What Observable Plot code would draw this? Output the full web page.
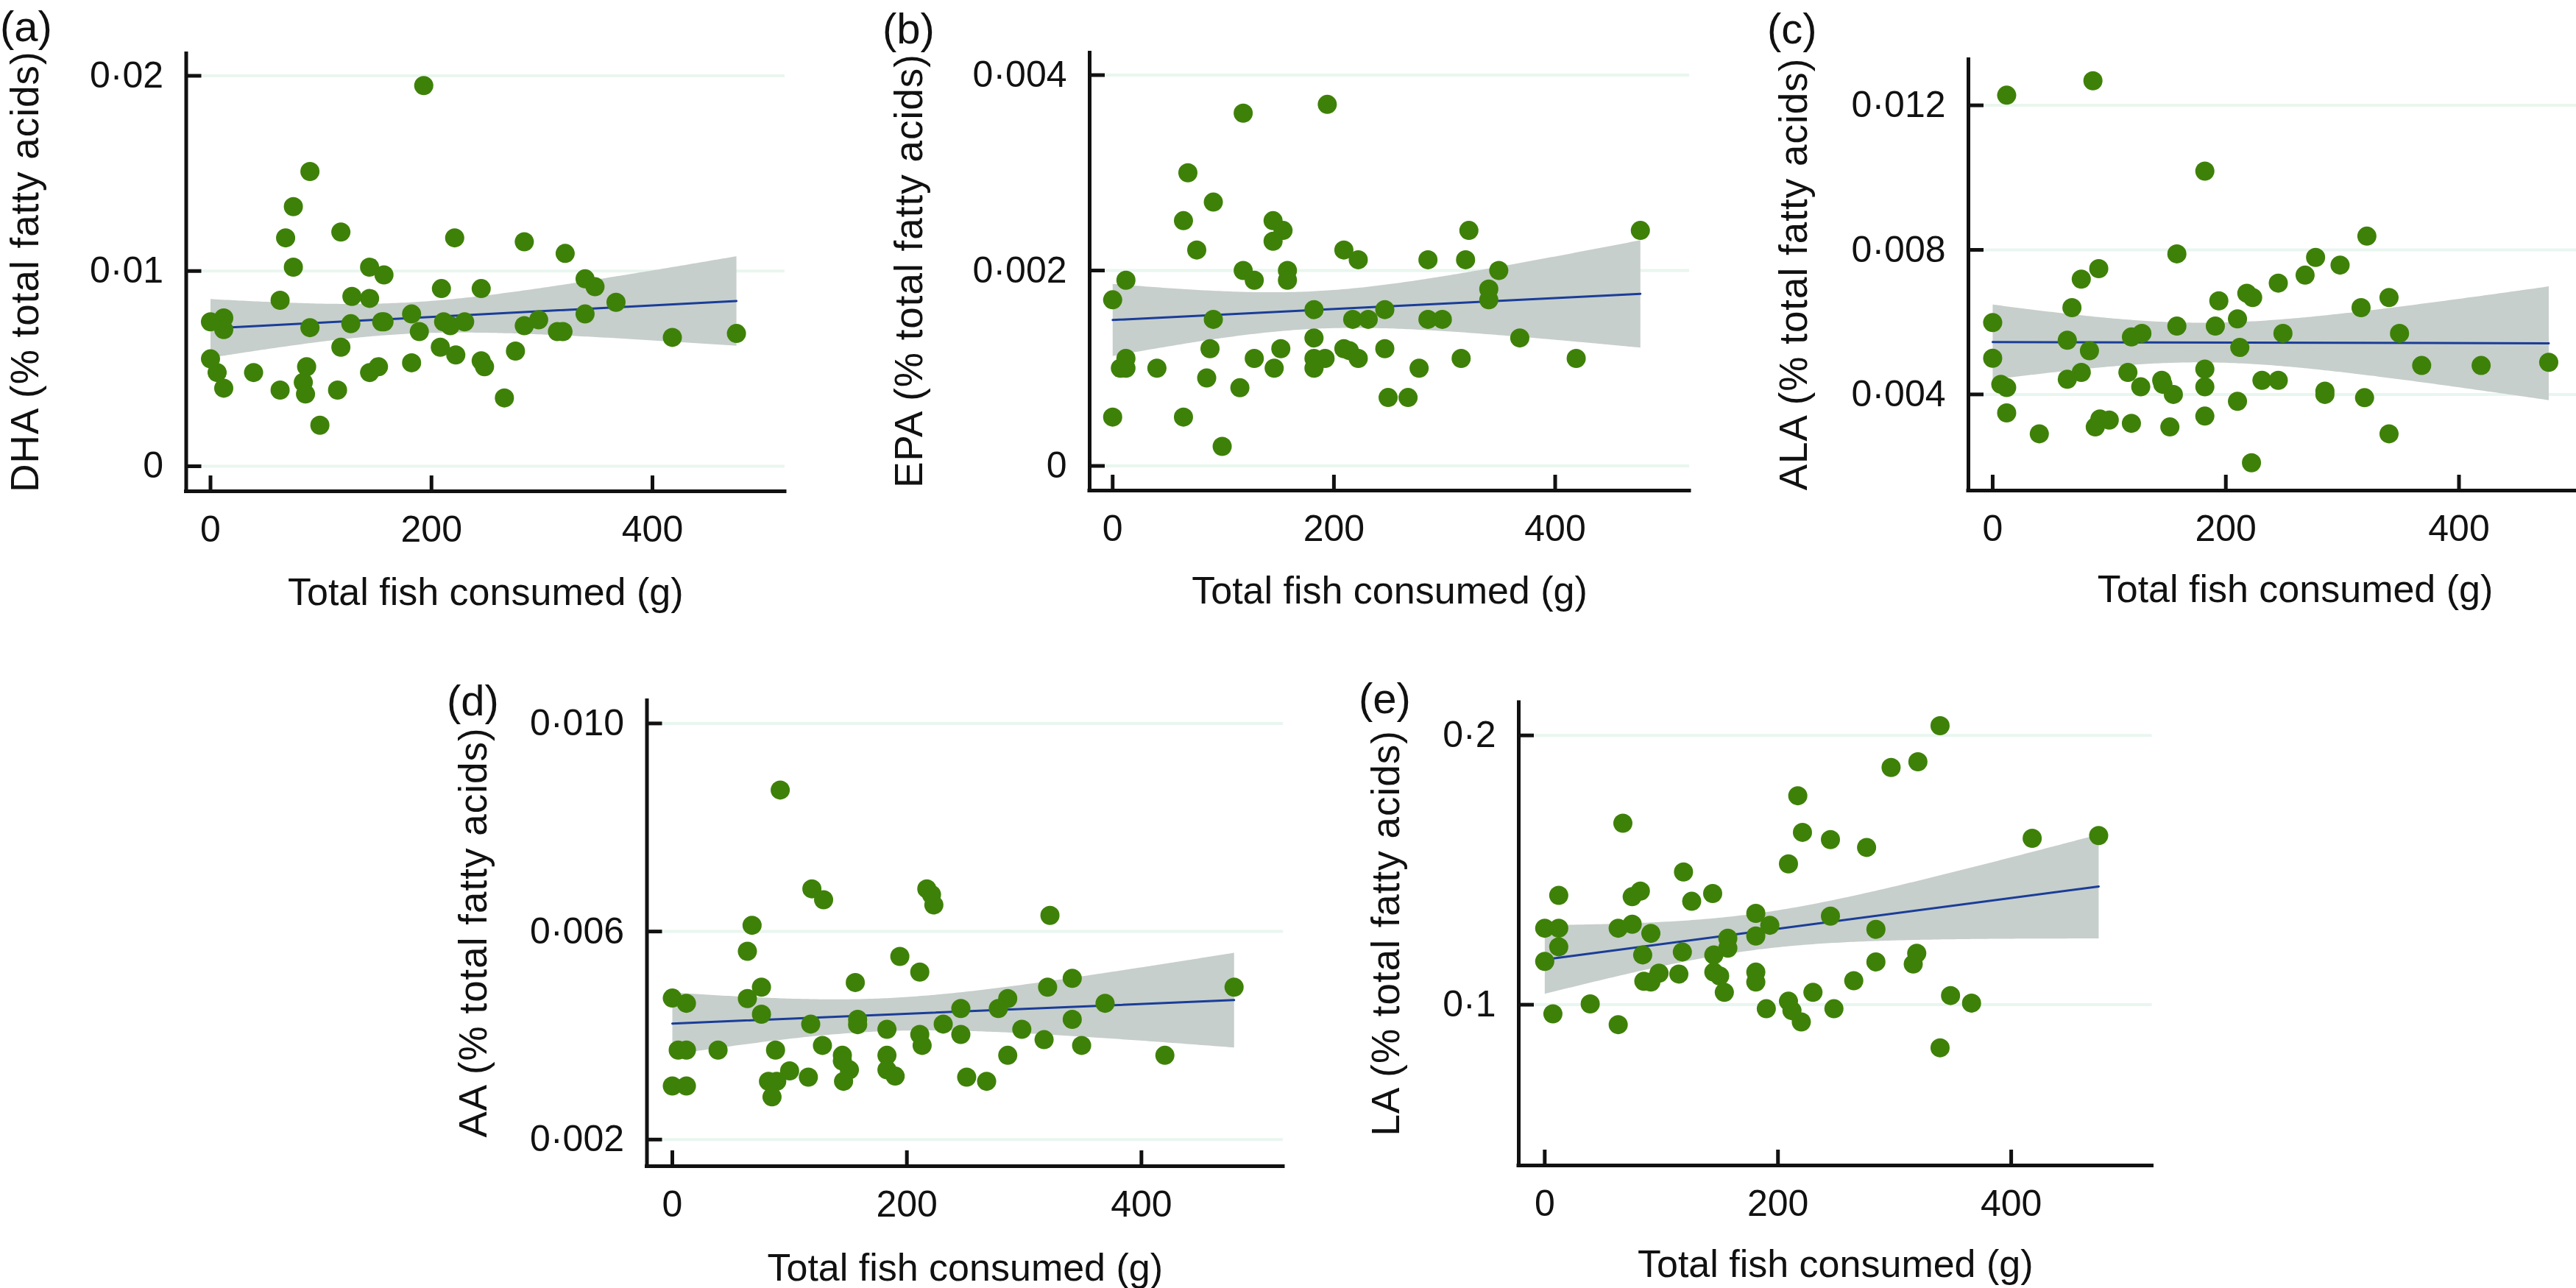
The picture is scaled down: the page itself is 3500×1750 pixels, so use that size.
<!DOCTYPE html>
<html><head><meta charset="utf-8">
<script src="https://cdn.jsdelivr.net/npm/d3@7"></script>
<script src="https://cdn.jsdelivr.net/npm/@observablehq/plot@0.6"></script>
<style>
html,body{margin:0;padding:0;background:#fff;}
#fig{position:relative;width:3500px;height:1750px;overflow:hidden;background:#fff;font-family:"Liberation Sans",Arial,Helvetica,sans-serif;}
.panel{position:absolute;}
.tag{position:absolute;font-size:58px;line-height:1;color:#111;font-family:"Liberation Sans",Arial,sans-serif;}
g[aria-label="y-axis label"]{font-size:53px;letter-spacing:1px;}
g[aria-label="x-axis label"]{font-size:52px;}
</style></head><body><div id="fig"></div>
<script>
// ---- data (x = total fish consumed in g, y = % total fatty acids)
const xTicks = [0, 200, 400];
const xLabel = "Total fish consumed (g)";

const dha = [[193,0.0195],[90,0.0151],[75,0.0133],[68,0.0117],[75,0.0102],[118,0.0120],[221,0.0117],[284,0.0115],[321,0.0109],[144,0.0102],[157,0.0098],[209,0.0091],[245,0.0091],[339,0.0096],[348,0.0092],[63,0.0085],[128,0.0087],[144,0.0086],[367,0.0084],[339,0.0078],[0,0.0074],[12,0.0076],[12,0.0070],[90,0.0071],[127,0.0073],[155,0.0074],[157,0.0074],[182,0.0078],[189,0.0069],[211,0.0074],[217,0.0072],[230,0.0074],[284,0.0072],[297,0.0075],[314,0.0069],[319,0.0069],[418,0.0066],[476,0.0068],[0,0.0055],[6,0.0048],[12,0.0040],[39,0.0048],[63,0.0039],[84,0.0043],[86,0.0037],[87,0.0051],[99,0.0021],[115,0.0039],[118,0.0061],[144,0.0048],[152,0.0051],[182,0.0053],[208,0.0061],[222,0.0057],[245,0.0054],[248,0.0051],[266,0.0035],[276,0.0059]];
const dhaTicks = [0, 0.01, 0.02];
const dhaTickLabels = ["0", "0·01", "0·02"];

const epa = [[194,0.00370],[118,0.00361],[68,0.00300],[91,0.00270],[64,0.00251],[145,0.00251],[154,0.00241],[145,0.00230],[322,0.00241],[477,0.00241],[76,0.00221],[209,0.00221],[222,0.00211],[285,0.00211],[319,0.00211],[118,0.00200],[128,0.00190],[158,0.00200],[158,0.00190],[12,0.00190],[349,0.00200],[0,0.00170],[340,0.00181],[340,0.00170],[182,0.00160],[246,0.00160],[91,0.00150],[217,0.00150],[231,0.00150],[285,0.00150],[298,0.00150],[182,0.00131],[368,0.00131],[88,0.00120],[152,0.00120],[209,0.00120],[214,0.00118],[246,0.00120],[12,0.00110],[7,0.00100],[12,0.00100],[40,0.00100],[128,0.00110],[146,0.00100],[182,0.00110],[182,0.00100],[192,0.00110],[222,0.00110],[315,0.00110],[419,0.00110],[277,0.00100],[85,0.00090],[115,0.00080],[249,0.00070],[267,0.00070],[0,0.00050],[64,0.00050],[99,0.00020]];
const epaTicks = [0, 0.002, 0.004];
const epaTickLabels = ["0", "0·002", "0·004"];

const ala = [[12,0.01228],[86,0.01268],[182,0.01018],[321,0.00838],[158,0.00789],[277,0.00779],[298,0.00758],[91,0.00748],[76,0.00719],[268,0.00730],[245,0.00708],[218,0.00680],[223,0.00668],[340,0.00668],[194,0.00659],[68,0.00640],[316,0.00640],[210,0.00609],[0,0.00599],[158,0.00589],[191,0.00589],[249,0.00569],[349,0.00569],[128,0.00569],[119,0.00559],[64,0.00550],[212,0.00530],[83,0.00521],[0,0.00500],[477,0.00489],[368,0.00480],[419,0.00480],[182,0.00470],[76,0.00461],[116,0.00461],[64,0.00442],[145,0.00439],[231,0.00439],[245,0.00439],[7,0.00428],[12,0.00419],[127,0.00421],[182,0.00421],[146,0.00428],[155,0.00400],[285,0.00409],[285,0.00400],[319,0.00391],[210,0.00381],[12,0.00349],[182,0.00340],[92,0.00332],[100,0.00329],[88,0.00310],[119,0.00320],[152,0.00310],[40,0.00291],[340,0.00291],[222,0.00211]];
const alaTicks = [0.004, 0.008, 0.012];
const alaTickLabels = ["0·004", "0·008", "0·012"];

const aa = [[92,0.00872],[119,0.00682],[129,0.00661],[217,0.00682],[221,0.00671],[223,0.00651],[322,0.00631],[68,0.00612],[64,0.00562],[194,0.00552],[211,0.00522],[341,0.00510],[156,0.00502],[76,0.00493],[320,0.00493],[479,0.00493],[0,0.00472],[12,0.00462],[64,0.00471],[286,0.00471],[278,0.00452],[246,0.00452],[369,0.00462],[76,0.00441],[158,0.00431],[341,0.00431],[158,0.00421],[118,0.00422],[231,0.00422],[183,0.00412],[298,0.00412],[211,0.00402],[246,0.00402],[317,0.00392],[128,0.00381],[213,0.00381],[349,0.00381],[5,0.00372],[12,0.00372],[39,0.00372],[88,0.00372],[145,0.00362],[183,0.00362],[286,0.00362],[420,0.00362],[145,0.00351],[151,0.00334],[183,0.00334],[100,0.00332],[116,0.00320],[190,0.00322],[251,0.00320],[268,0.00312],[0,0.00303],[12,0.00303],[82,0.00312],[89,0.00312],[146,0.00312],[85,0.00282]];
const aaTicks = [0.002, 0.006, 0.010];
const aaTickLabels = ["0·002", "0·006", "0·010"];

const la = [[339,0.2036],[320,0.1902],[297,0.1881],[217,0.1776],[67,0.1674],[221,0.1640],[418,0.1618],[475,0.1628],[245,0.1613],[276,0.1584],[209,0.1523],[119,0.1493],[12,0.1406],[75,0.1401],[82,0.1422],[144,0.1413],[126,0.1384],[181,0.1339],[245,0.1329],[193,0.1295],[0,0.1284],[12,0.1284],[63,0.1284],[75,0.1299],[91,0.1265],[181,0.1255],[284,0.1280],[157,0.1247],[157,0.1210],[12,0.1215],[84,0.1185],[118,0.1196],[145,0.1185],[0,0.1161],[284,0.1159],[319,0.1191],[316,0.1151],[145,0.1121],[150,0.1107],[181,0.1121],[181,0.1084],[98,0.1117],[115,0.1114],[85,0.1087],[91,0.1084],[265,0.1089],[154,0.1046],[230,0.1046],[39,0.1003],[348,0.1034],[366,0.1006],[209,0.1013],[190,0.0985],[212,0.0978],[248,0.0985],[220,0.0936],[7,0.0966],[63,0.0926],[339,0.0840]];
const laTicks = [0.1, 0.2];
const laTickLabels = ["0·1", "0·2"];

// ---- layout (positions in page pixels)
const panels = [
  {tag:"(a)", tagPos:[0,7],     data:dha, ticks:dhaTicks, tickLabels:dhaTickLabels, yLabel:"DHA (% total fatty acids)",
   box:[0,0,1100,870],    m:[70,34,203,252.5],  xDomain:[-21.98,519.9], yDomain:[-0.001282,0.021225], yOff:239, xOff:154, xShift:0},
  {tag:"(b)", tagPos:[1199,10], data:epa, ticks:epaTicks, tickLabels:epaTickLabels, yLabel:"EPA (% total fatty acids)",
   box:[1150,0,1200,870], m:[69,55,204,330],    xDomain:[-20.8,521.4],  yDomain:[-0.000252,0.004245], yOff:265, xOff:153, xShift:0},
  {tag:"(c)", tagPos:[2401,10], data:ala, ticks:alaTicks, tickLabels:alaTickLabels, yLabel:"ALA (% total fatty acids)",
   box:[2350,0,1150,870], m:[78,0,204,324],     xDomain:[-20.8,500.7],  yDomain:[0.00134,0.013316], yOff:257, xOff:151, xShift:31},
  {tag:"(d)", tagPos:[607,923], data:aa, ticks:aaTicks, tickLabels:aaTickLabels, yLabel:"AA (% total fatty acids)",
   box:[580,880,1250,870], m:[69,87,166,298.5], xDomain:[-21.65,520.9], yDomain:[0.001488,0.010473], yOff:256, xOff:155, xShift:0},
  {tag:"(e)", tagPos:[1846,920], data:la, ticks:laTicks, tickLabels:laTickLabels, yLabel:"LA (% total fatty acids)",
   box:[1750,880,1250,870], m:[71.5,76.5,167,313], xDomain:[-22.3,520.8], yDomain:[0.04031,0.2129], yOff:200, xOff:151, xShift:0}
];

const fig = document.getElementById("fig");
const INK = "#111";
for (const p of panels) {
  const fmt = new Map(p.ticks.map((t, i) => [t, p.tickLabels[i]]));
  const chart = Plot.plot({
    width: p.box[2], height: p.box[3],
    marginTop: p.m[0], marginRight: p.m[1], marginBottom: p.m[2], marginLeft: p.m[3],
    x: {domain: p.xDomain},
    y: {domain: p.yDomain},
    style: {background: "transparent", overflow: "visible", maxWidth: "none", color: INK,
            fontFamily: "'Liberation Sans', Arial, Helvetica, sans-serif", fontSize: "50px"},
    marks: [
      Plot.ruleY(p.ticks, {stroke: "#e9f6ef", strokeWidth: 4}),
      Plot.linearRegressionY(p.data, {x: d => d[0], y: d => d[1], ci: 0.95,
        fill: "#c6cfcb", fillOpacity: 1, stroke: "#1b3d98", strokeWidth: 3}),
      Plot.dot(p.data, {x: d => d[0], y: d => d[1], r: 13, fill: "#3e8108", stroke: null}),
      Plot.ruleX([p.xDomain[0]], {stroke: INK, strokeWidth: 5}),
      Plot.ruleY([p.yDomain[0]], {stroke: INK, strokeWidth: 5, strokeLinecap: "square"}),
      Plot.axisY(p.ticks, {tickSize: -21, tickPadding: 52, strokeWidth: 5, stroke: INK, fill: INK,
        tickFormat: d => fmt.get(d), label: p.yLabel, labelAnchor: "center", labelOffset: p.yOff, labelArrow: "none"}),
      Plot.axisX(xTicks, {tickSize: -21, tickPadding: 54, strokeWidth: 5, stroke: INK, fill: INK,
        tickFormat: d => String(d), label: xLabel, labelAnchor: "center", labelOffset: p.xOff, labelArrow: "none"})
    ]
  });
  if (p.xShift) {
    const g = chart.querySelector('g[aria-label="x-axis label"]');
    if (g) g.setAttribute("transform", `translate(${p.xShift},0) ${g.getAttribute("transform") || ""}`);
  }
  chart.classList.add("panel");
  chart.style.left = p.box[0] + "px";
  chart.style.top = p.box[1] + "px";
  fig.appendChild(chart);
  const t = document.createElement("div");
  t.className = "tag";
  t.textContent = p.tag;
  t.style.left = p.tagPos[0] + "px";
  t.style.top = p.tagPos[1] + "px";
  fig.appendChild(t);
}
</script></body></html>
